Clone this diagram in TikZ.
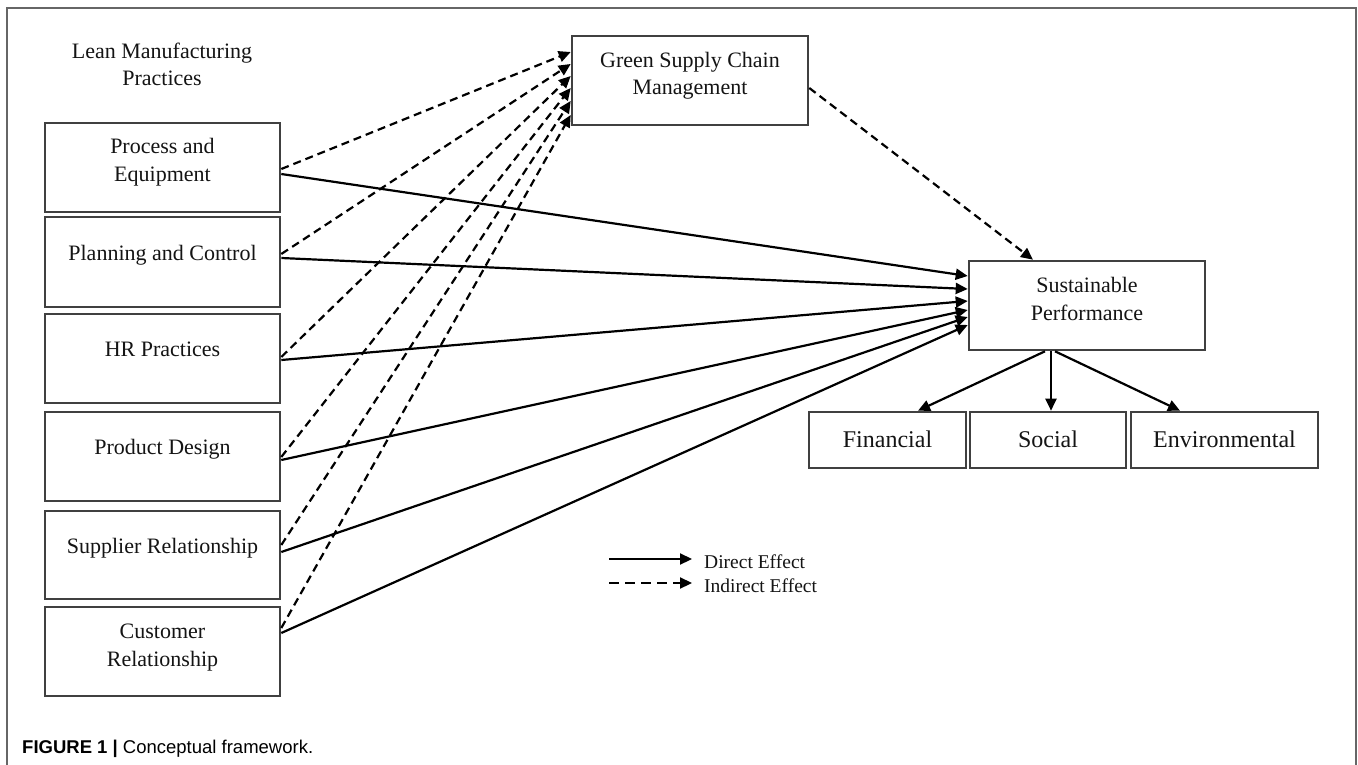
\documentclass[tikz,border=0pt]{standalone}
\usepackage{fontspec}
\setmainfont{Liberation Serif}
\newfontfamily\capfont{Liberation Sans}
\usetikzlibrary{arrows.meta}
\begin{document}
\begin{tikzpicture}[x=1pt,y=-1pt,
  frameline/.style={draw=black!60, line width=1.8pt},
  lbox/.style={draw=black!75, line width=2.6pt, minimum width=235pt, minimum height=89pt, inner sep=0pt},
  txt/.style={anchor=base, inner sep=0pt, text=black!92, font=\fontsize{22}{28}\selectfont},
  btxt/.style={anchor=base, inner sep=0pt, text=black!92, font=\fontsize{24}{28}\selectfont},
  legtxt/.style={anchor=base west, inner sep=0pt, text=black!92, font=\fontsize{19.5}{24}\selectfont},
  direct/.style={line width=2.2pt, -{Triangle[length=12pt,width=11pt]}},
  indirect/.style={direct, dash pattern=on 8pt off 5pt},
]
\useasboundingbox (0,0) rectangle (1358,765);
\fill[white] (0,0) rectangle (1358,765);
\draw[frameline] (7,766) -- (7,8) -- (1356,8) -- (1356,766);

% title
\node[txt] (t1) at (162,59) {Lean Manufacturing};
\node[txt] (t2) at (162,86) {Practices};

% left boxes
\node[lbox] (pe) at (162.5,167.5) {};
\node[txt] (pe1) at (162.5,154) {Process and};
\node[txt] (pe2) at (162.5,182) {Equipment};

\node[lbox, minimum height=90pt] (pc) at (162.5,262) {};
\node[txt] (pc1) at (162.5,260) {Planning and Control};

\node[lbox] (hr) at (162.5,358.5) {};
\node[txt] (hr1) at (162.5,356) {HR Practices};

\node[lbox] (pd) at (162.5,456.5) {};
\node[txt] (pd1) at (162.5,454.5) {Product Design};

\node[lbox, minimum height=88pt] (sr) at (162.5,555) {};
\node[txt] (sr1) at (162.5,553.5) {Supplier Relationship};

\node[lbox] (cr) at (162.5,651.5) {};
\node[txt] (cr1) at (162.5,638.5) {Customer};
\node[txt] (cr2) at (162.5,666.5) {Relationship};

% GSCM
\node[lbox, minimum width=236pt] (gs) at (690,80.5) {};
\node[txt] (gs1) at (690,68) {Green Supply Chain};
\node[txt] (gs2) at (690,95) {Management};

% Sustainable performance
\node[lbox, minimum width=236pt] (sp) at (1087,305.5) {};
\node[txt] (sp1) at (1087,292) {Sustainable};
\node[txt] (sp2) at (1087,320) {Performance};

% dimension boxes
\node[lbox, minimum width=157pt, minimum height=56pt] (fi) at (887.5,440) {};
\node[btxt] (fi1) at (887.5,447) {Financial};
\node[lbox, minimum width=156pt, minimum height=56pt] (so) at (1048,440) {};
\node[btxt] (so1) at (1048,447) {Social};
\node[lbox, minimum width=187pt, minimum height=56pt] (en) at (1224.5,440) {};
\node[btxt] (en1) at (1224.5,447) {Environmental};

% indirect effects to GSCM
\draw[indirect] ([yshift=-1.5pt]pe.east) -- ([yshift=28.5pt]gs.west);
\draw[indirect] ([yshift=8pt]pc.east) -- ([yshift=16.5pt]gs.west);
\draw[indirect] ([yshift=1.5pt]hr.east) -- ([yshift=4.5pt]gs.west);
\draw[indirect] ([yshift=-0.5pt]pd.east) -- ([yshift=-7.5pt]gs.west);
\draw[indirect] ([yshift=10pt]sr.east) -- ([yshift=-20.5pt]gs.west);
\draw[indirect] ([yshift=23.5pt]cr.east) -- ([yshift=-34.5pt]gs.west);

% direct effects to SP
\draw[direct] ([yshift=-6.5pt]pe.east) -- ([yshift=29.5pt]sp.west);
\draw[direct] ([yshift=4pt]pc.east) -- ([yshift=16.5pt]sp.west);
\draw[direct] ([yshift=-1.5pt]hr.east) -- ([yshift=4.5pt]sp.west);
\draw[direct] ([yshift=-3.5pt]pd.east) -- ([yshift=-4.5pt]sp.west);
\draw[direct] ([yshift=3pt]sr.east) -- ([yshift=-11.5pt]sp.west);
\draw[direct] ([yshift=18.5pt]cr.east) -- ([yshift=-19.5pt]sp.west);

% GSCM -> SP
\draw[indirect] ([yshift=-7.5pt]gs.east) -- ([xshift=-54pt]sp.north);

% SP -> dimensions
\draw[direct] ([xshift=-42pt]sp.south) -- ([xshift=30.5pt]fi.north);
\draw[direct] ([xshift=-36pt]sp.south) -- ([xshift=3pt]so.north);
\draw[direct] ([xshift=-32pt]sp.south) -- ([xshift=-44.5pt]en.north);

% legend
\coordinate (la1) at (609,559);
\coordinate (lb1) at (692,559);
\coordinate (la2) at (609,583);
\coordinate (lb2) at (692,583);
\draw[direct] (la1) -- (lb1);
\draw[direct, dash pattern=on 10pt off 6pt] (la2) -- (lb2);
\node[legtxt] (ld) at (704,568) {Direct Effect};
\node[legtxt] (li) at (704,592) {Indirect Effect};

% caption
\node[anchor=base west, inner sep=0pt, font=\capfont\fontsize{18.5}{22}\selectfont] (cap) at (22,753) {\textbf{FIGURE 1 |} Conceptual framework.};
\end{tikzpicture}
\end{document}
